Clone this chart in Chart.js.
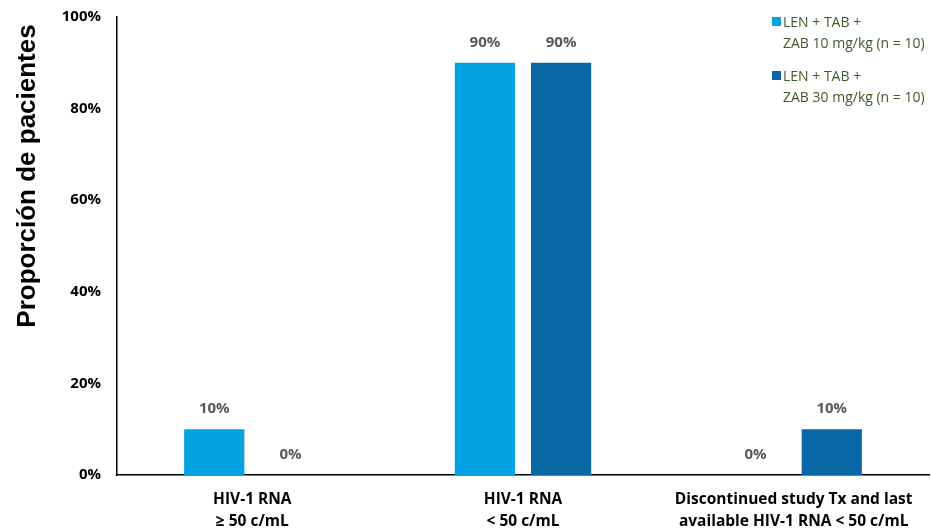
<!DOCTYPE html>
<html>
<head>
<meta charset="utf-8">
<script src="https://cdn.jsdelivr.net/npm/chart.js@4/dist/chart.umd.min.js"></script>
<style>
  html, body { margin: 0; padding: 0; background: #fff; }
  #wrap { position: relative; width: 931px; height: 531px; }
  #legend {
    position: absolute; left: 771px; top: 11px;
    font-family: "Open Sans", "Liberation Sans", sans-serif; font-size: 14px;
    color: #3E5A26; line-height: 21px; white-space: nowrap;
  }
  .item { position: relative; padding-left: 12px; margin-bottom: 12px; }
  .sw { position: absolute; left: 1px; top: 6px; width: 9px; height: 9px; }
</style>
</head>
<body>
<div id="wrap">
  <canvas id="c" width="931" height="531"></canvas>
  <div id="legend"></div>
</div>
<script>
// Outcome categories (two-line tick labels)
const categories = [
  ["HIV-1 RNA", "\u2265 50 c/mL"],
  ["HIV-1 RNA", "< 50 c/mL"],
  ["Discontinued study Tx and last", "available HIV-1 RNA < 50 c/mL"]
];
// Percent of patients per dose group
const dose10 = [10, 90, 0];
const dose30 = [0, 90, 10];
const seriesNames = [
  ["LEN + TAB +", "ZAB 10 mg/kg (n = 10)"],
  ["LEN + TAB +", "ZAB 30 mg/kg (n = 10)"]
];
const yTicks = [0, 20, 40, 60, 80, 100];
const axisTitle = "Proporci\u00f3n de pacientes";

const colors = ["#03A2E0", "#0868A6"];

// HTML legend with wrapped labels
const legend = document.getElementById("legend");
seriesNames.forEach((lines, i) => {
  const d = document.createElement("div");
  d.className = "item";
  d.innerHTML = '<span class="sw" style="background:' + colors[i] + '"></span>' + lines.join("<br>");
  legend.appendChild(d);
});

// Value labels above bars + rotated axis title
const extras = {
  id: "extras",
  afterDatasetsDraw(chart) {
    const ctx = chart.ctx;
    ctx.save();
    ctx.font = "bold 15px 'Open Sans', 'Liberation Sans', sans-serif";
    ctx.fillStyle = "#595959";
    ctx.textAlign = "center";
    ctx.textBaseline = "middle";
    chart.data.datasets.forEach((ds, di) => {
      const meta = chart.getDatasetMeta(di);
      meta.data.forEach((bar, i) => {
        ctx.fillText(ds.data[i] + "%", bar.x, bar.y - 20);
      });
    });
    ctx.restore();

    ctx.save();
    ctx.font = "bold 26px 'Liberation Sans', Arial, sans-serif";
    ctx.fillStyle = "#000";
    ctx.textAlign = "center";
    ctx.textBaseline = "middle";
    ctx.translate(28, 176);
    ctx.rotate(-Math.PI / 2);
    ctx.fillText(axisTitle, 0, 0);
    ctx.restore();
  }
};

new Chart(document.getElementById("c"), {
  type: "bar",
  data: {
    labels: categories,
    datasets: [
      { label: seriesNames[0].join(" "), data: dose10, backgroundColor: colors[0] },
      { label: seriesNames[1].join(" "), data: dose30, backgroundColor: colors[1] }
    ]
  },
  options: {
    responsive: false,
    animation: false,
    events: [],
    layout: { padding: { top: 17, right: 2, left: 0, bottom: 0 } },
    datasets: { bar: { categoryPercentage: 0.563, barPercentage: 0.79 } },
    plugins: { legend: { display: false }, tooltip: { enabled: false } },
    scales: {
      x: {
        grid: { display: false, drawTicks: false },
        border: { color: "#000", width: 1.5 },
        ticks: {
          color: "#000",
          padding: 13,
          maxRotation: 0,
          autoSkip: false,
          font: { family: "'Open Sans', 'Liberation Sans', sans-serif", size: 15.5, weight: "bold", lineHeight: 1.45 }
        },
        afterFit(s) { s.height = 56; }
      },
      y: {
        min: 0, max: 100,
        afterBuildTicks(s) { s.ticks = yTicks.map(v => ({ value: v })); },
        grid: { display: false, drawTicks: true, tickLength: 5, tickColor: "#000", tickWidth: 1.5 },
        border: { color: "#000", width: 1.5 },
        ticks: {
          color: "#000",
          padding: 11,
          callback: v => v + "%",
          font: { family: "'Open Sans', 'Liberation Sans', sans-serif", size: 15, weight: "bold" }
        },
        afterFit(s) { s.width = 117; s.paddingTop = 0; s.paddingBottom = 0; }
      }
    }
  },
  plugins: [extras]
});
</script>
</body>
</html>
